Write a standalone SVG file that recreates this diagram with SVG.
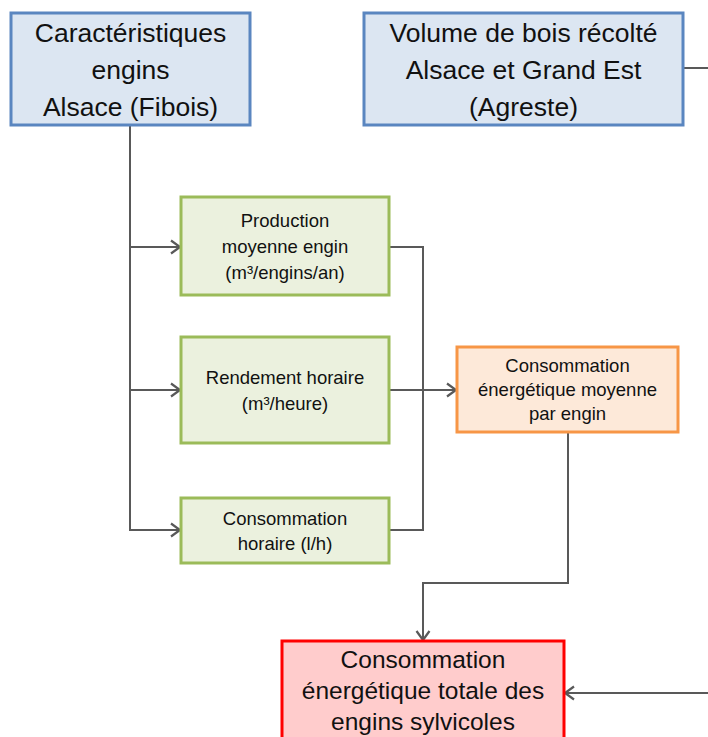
<svg xmlns="http://www.w3.org/2000/svg" width="708" height="737" viewBox="0 0 708 737">
<style>
text{font-family:"Liberation Sans",Arial,sans-serif;fill:#111;text-anchor:middle}
.big{font-size:26.5px}
.red{font-size:24.5px}
.sm{font-size:18.5px}
.blue{fill:#DCE6F2;stroke:#5A86C0;stroke-width:3}
.green{fill:#EBF1DE;stroke:#9BBB59;stroke-width:3}
.orange{fill:#FDE9D9;stroke:#F79646;stroke-width:3}
.redbox{fill:#FFCCCC;stroke:#FF0000;stroke-width:3}
.c{fill:none;stroke:#595959;stroke-width:2}
</style>
<defs>
<marker id="arr" markerUnits="userSpaceOnUse" markerWidth="14" markerHeight="16" refX="11" refY="8" orient="auto">
<path d="M2,1.5 L11,8 L2,14.5" fill="none" stroke="#595959" stroke-width="2.2"/>
</marker>
</defs>
<g id="connectors">
<path class="c" d="M130 125 V530 H180" marker-end="url(#arr)"/>
<path class="c" d="M130 247 H180" marker-end="url(#arr)"/>
<path class="c" d="M130 390 H180" marker-end="url(#arr)"/>
<path class="c" d="M389 247 H423 V530 H389"/>
<path class="c" d="M389 390 H456" marker-end="url(#arr)"/>
<path class="c" d="M568 432 V583 H423 V640" marker-end="url(#arr)"/>
<path class="c" d="M683 68 H708"/>
<path class="c" d="M708 693 H565" marker-end="url(#arr)"/>
</g>
<g id="caracteristiques">
<rect class="blue" x="11" y="13" width="239" height="112"/>
<text class="big" x="130.5" y="42">Caractéristiques</text>
<text class="big" x="130.5" y="79">engins</text>
<text class="big" x="130.5" y="116">Alsace (Fibois)</text>
</g>
<g id="volume">
<rect class="blue" x="364" y="13" width="319" height="112"/>
<text class="big" x="523.5" y="42">Volume de bois récolté</text>
<text class="big" x="523.5" y="79">Alsace et Grand Est</text>
<text class="big" x="523.5" y="116">(Agreste)</text>
</g>
<g id="production">
<rect class="green" x="181" y="197" width="208" height="98"/>
<text class="sm" x="285" y="227">Production</text>
<text class="sm" x="285" y="253">moyenne engin</text>
<text class="sm" x="285" y="279">(m³/engins/an)</text>
</g>
<g id="rendement">
<rect class="green" x="181" y="337" width="208" height="106"/>
<text class="sm" x="285" y="384">Rendement horaire</text>
<text class="sm" x="285" y="410">(m³/heure)</text>
</g>
<g id="consohoraire">
<rect class="green" x="181" y="498" width="208" height="65"/>
<text class="sm" x="285" y="525">Consommation</text>
<text class="sm" x="285" y="550">horaire (l/h)</text>
</g>
<g id="consomoyenne">
<rect class="orange" x="457" y="347" width="221" height="85"/>
<text class="sm" x="567.5" y="372">Consommation</text>
<text class="sm" x="567.5" y="396">énergétique moyenne</text>
<text class="sm" x="567.5" y="420">par engin</text>
</g>
<g id="consototale">
<rect class="redbox" x="282" y="641" width="282" height="110"/>
<text class="red" x="423" y="668">Consommation</text>
<text class="red" x="423" y="699">énergétique totale des</text>
<text class="red" x="423" y="730">engins sylvicoles</text>
</g>
</svg>
